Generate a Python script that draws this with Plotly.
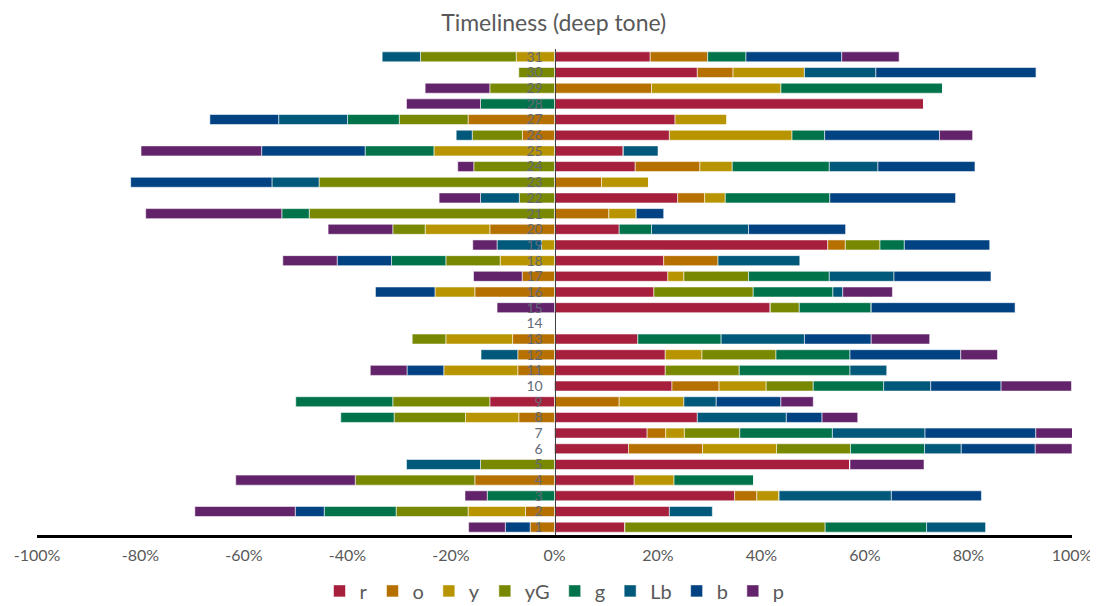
import plotly.graph_objects as go

categories = list(range(1, 32))

# values in percent per category 1..31 (negative = drawn to the left)
r  = [13.6, 22.2, 34.8, 15.4, 57.1, 14.3, 17.9, 27.6, -12.5, 22.7, 21.4, 21.4, 16.1, 0, 41.7, 19.2, 21.9, 21.1, 52.8, 12.5, 0, 23.8, 0, 15.6, 13.3, 22.2, 23.3, 71.4, 0, 27.6, 18.5]
o  = [-4.7, -5.6, 4.3, -15.4, 0, 14.3, 3.6, -6.9, 12.5, 9.1, -7.1, -7.1, -8.1, 0, 0, -15.4, -6.25, 10.5, 3.4, -12.5, 10.5, 5.2, 9.1, 12.5, 0, -6.2, -16.7, 0, 18.75, 6.9, 11.1]
y  = [0, -11.1, 4.3, 7.7, 0, 14.3, 3.6, -10.3, 12.5, 9.1, -14.3, 7.1, -12.9, 0, 0, -7.7, 3.1, -10.5, -2.5, -12.5, 5.3, 4.0, 9.1, 6.25, -23.3, 23.7, 10.0, 0, 25.0, 13.8, -7.4]
yG = [38.7, -13.9, 0, -23.1, -14.3, 14.3, 10.7, -13.8, -18.75, 9.1, 14.3, 14.3, -6.5, 0, 5.6, 19.2, 12.5, -10.5, 6.7, -6.25, -47.4, -6.8, -45.5, -15.6, 0, -9.7, -13.3, 0, -12.5, -6.9, -18.5]
g  = [19.6, -13.9, -13.0, 15.4, 0, 14.3, 17.9, -10.3, -18.75, 13.6, 21.4, 14.3, 16.1, 0, 13.9, 15.4, 15.6, -10.5, 4.7, 6.25, -5.3, 20.2, 0, 18.75, -13.3, 6.3, -10.0, -14.3, 31.25, 0, 7.4]
Lb = [11.4, 8.3, 21.7, 0, -14.3, 7.1, 17.9, 17.2, 6.25, 9.1, 7.1, -7.1, 16.1, 0, 0, 1.9, 12.5, 15.8, -8.6, 18.75, 0, -7.5, -9.1, 9.4, 6.7, -3.1, -13.3, 0, 0, 13.8, -7.4]
b  = [-4.8, -5.6, 17.4, 0, 0, 14.3, 21.4, 6.9, 12.5, 13.6, -7.1, 21.4, 12.9, 0, 27.8, -11.5, 18.75, -10.5, 16.5, 18.75, 5.3, 24.3, -27.3, 18.75, -20.0, 22.2, -13.3, 0, 0, 31.0, 18.5]
p  = [-7.1, -19.4, -4.3, -23.1, 14.3, 7.1, 7.1, 6.9, 6.25, 13.6, -7.1, 7.1, 11.3, 0, -11.1, 9.6, -9.4, -10.5, -4.7, -12.5, -26.3, -8.0, 0, -3.1, -23.3, 6.4, 0, -14.3, -12.5, 0, 11.1]

series_names = ["r", "o", "y", "yG", "g", "Lb", "b", "p"]
series_values = [r, o, y, yG, g, Lb, b, p]
series_colors = ["#A61F3D", "#B57000", "#B89500", "#788800", "#00734A", "#00587A", "#004282", "#62236A"]

x_ticks = [-100, -80, -60, -40, -20, 0, 20, 40, 60, 80, 100]
x_ticktext = ["-100%", "-80%", "-60%", "-40%", "-20%", "0%", "20%", "40%", "60%", "80%", "100%"]

FONT = "Lato, 'Noto Sans', sans-serif"

fig = go.Figure()
for name, vals, col in zip(series_names, series_values, series_colors):
    fig.add_trace(go.Bar(
        name=name, y=categories, x=vals, orientation="h",
        marker=dict(color=col, line=dict(color="rgba(255,255,255,0.55)", width=1)),
        hoverinfo="x+y+name",
    ))

fig.update_layout(
    width=1098, height=606,
    barmode="relative", bargap=0.36,
    paper_bgcolor="white", plot_bgcolor="white",
    margin=dict(l=29, r=34, t=41, b=79, autoexpand=False),
    title=dict(text="Timeliness (deep tone)", x=0.497, xanchor="center", y=0.976, yanchor="middle",
               font=dict(family=FONT, size=23, color="#595959")),
    font=dict(family=FONT, color="#595959"),
    showlegend=True,
    legend=dict(orientation="h", x=0.5, xanchor="center", y=-0.115, yanchor="middle",
                font=dict(family=FONT, size=20, color="#595959"), traceorder="normal",
                itemwidth=30),
    xaxis=dict(range=[-100, 100], tickmode="array", tickvals=x_ticks, ticktext=x_ticktext,
               showgrid=False, zeroline=False,
               showline=True, linecolor="black", linewidth=3, ticks="",
               tickfont=dict(family=FONT, size=16, color="#595959"), ticklabelstandoff=4,
               fixedrange=True),
    yaxis=dict(range=[0.5, 31.5], tickvals=categories, ticktext=[str(c) for c in categories],
               anchor="free", position=0.5, showline=True, linecolor="#404040", linewidth=1,
               showgrid=False, zeroline=False, ticks="", ticklabelstandoff=9,
               tickfont=dict(family=FONT, size=14, color="#646A78"), layer="above traces"),
)

fig.write_html("out.html")
